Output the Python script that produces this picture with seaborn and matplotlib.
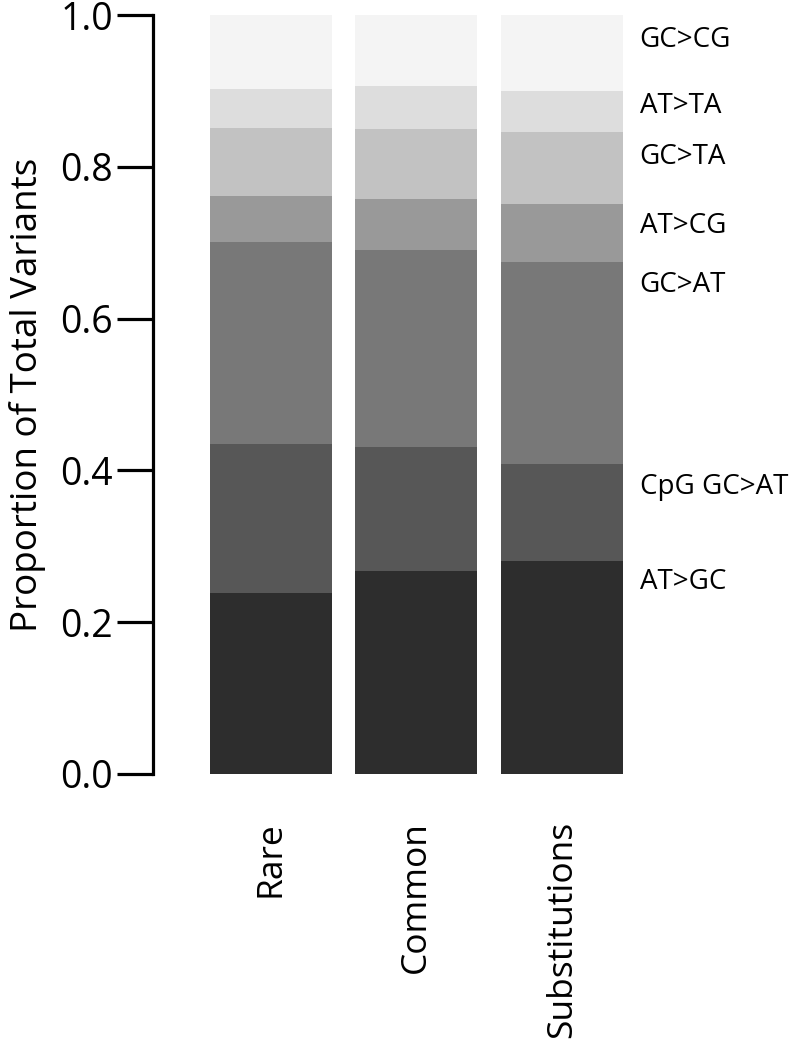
import numpy as np
import matplotlib
matplotlib.use("Agg")
import matplotlib.pyplot as plt
import seaborn as sns

# Data (proportions per mutation class, bottom to top)
categories = ["Rare", "Common", "Substitutions"]
classes = ["AT>GC", "CpG GC>AT", "GC>AT", "AT>CG", "GC>TA", "AT>TA", "GC>CG"]
rare = [0.238, 0.197, 0.266, 0.061, 0.089, 0.051, 0.098]
common = [0.268, 0.163, 0.259, 0.068, 0.092, 0.056, 0.094]
substitutions = [0.281, 0.127, 0.266, 0.077, 0.095, 0.054, 0.100]
colors = ["#2d2d2d", "#575757", "#787878", "#999999", "#c2c2c2", "#dddddd", "#f4f4f4"]
label_y = [0.253, 0.378, 0.644, 0.722, 0.813, 0.880, 0.967]

sns.set_style("white")
plt.rcParams['font.family'] = ['Open Sans', 'DejaVu Sans']
plt.rcParams['text.color'] = 'black'
plt.rcParams['axes.labelcolor'] = 'black'

fig = plt.figure(figsize=(8.12, 10.39), dpi=100)
ax = fig.add_axes([153 / 812, 265 / 1039, 470 / 812, 759 / 1039])

values = np.array([rare, common, substitutions])
bottom = np.zeros(len(categories))
for i, cls in enumerate(classes):
    sns.barplot(x=categories, y=values[:, i], bottom=bottom, color=colors[i],
                width=0.84, ax=ax, linewidth=0, saturation=1)
    bottom = bottom + values[:, i]

# class labels on the right
for cls, y in zip(classes, label_y):
    ax.text(2.535, y, cls, fontsize=20, va='center', ha='left', clip_on=False)

ax.set_xlim(-0.81, 2.42)
ax.set_ylim(0, 1.0)
ax.set_yticks([0, 0.2, 0.4, 0.6, 0.8, 1.0])
ax.set_yticklabels(["0.0", "0.2", "0.4", "0.6", "0.8", "1.0"])
ax.set_ylabel("Proportion of Total Variants", fontsize=26.5, labelpad=10)

for s in ["top", "right", "bottom"]:
    ax.spines[s].set_visible(False)
ax.spines["left"].set_linewidth(2.3)
ax.spines["left"].set_color("black")

ax.tick_params(axis='y', direction='out', length=26, width=2.3, pad=3,
               labelsize=27, left=True, colors='black')
ax.tick_params(axis='x', length=0, pad=34, labelsize=25.5, rotation=90,
               colors='black')
for t in ax.get_xticklabels():
    t.set_va('top')

plt.savefig("out.png", dpi=100)
